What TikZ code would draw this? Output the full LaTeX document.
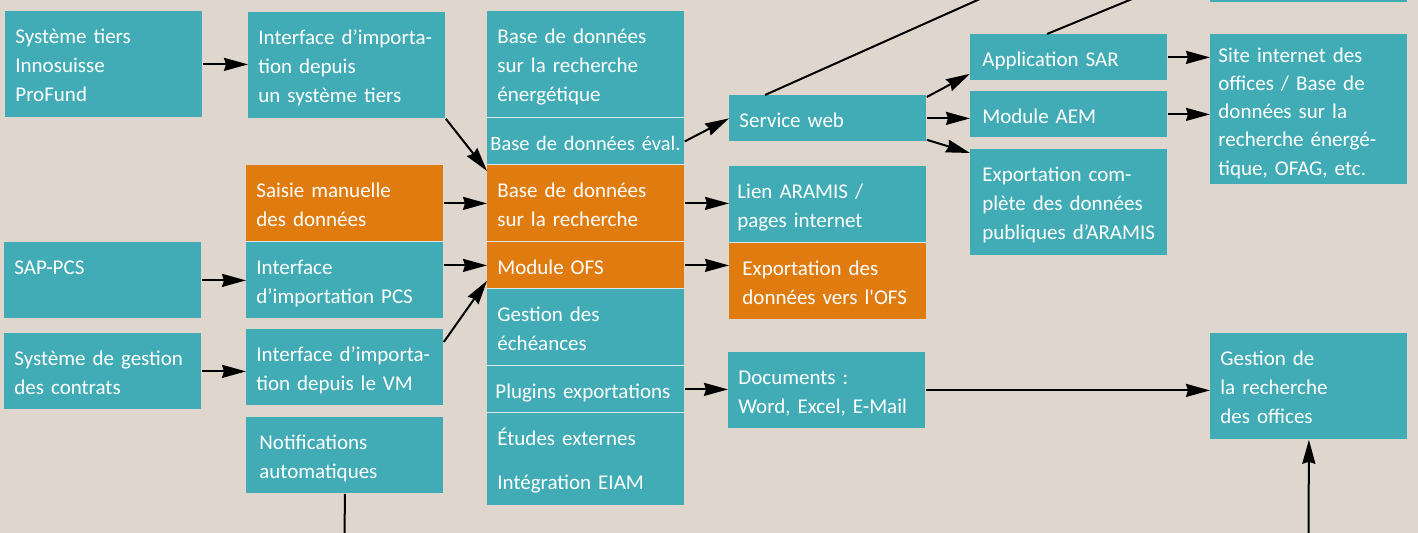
\documentclass[tikz,border=0pt]{standalone}
\usepackage{fontspec}
\setmainfont{Carlito}
\usetikzlibrary{arrows.meta}
\definecolor{boxteal}{RGB}{65,172,182}
\definecolor{boxorange}{RGB}{224,123,16}
\definecolor{paper}{RGB}{223,215,206}
\definecolor{sepline}{RGB}{214,232,233}
\begin{document}
\begin{tikzpicture}[x=0.5pt,y=-0.5pt,
  box/.style={fill=boxteal, text=white, anchor=north west, inner xsep=5pt, inner ysep=0pt, text width=88.5pt, text height=16pt, text depth=#1, align=left, font=\fontsize{10.5pt}{14.5pt}\selectfont},
  box/.default=22pt,
  hot/.style={box=#1, fill=boxorange},
  hot/.default=22pt,
  link/.style={line width=1pt},
  sep/.style={draw=sepline, line width=0.6pt},
  >={Stealth[length=12pt,width=6.5pt,inset=1pt]}]
\useasboundingbox (0,0) rectangle (1418,533);
\clip (0,0) rectangle (1418,533);
\fill[paper] (0,0) rectangle (1418,533);
\node[box=37pt] (a1) at (5,11) {Système tiers\\Innosuisse\\ProFund};
\node[box] (a2) at (4,242) {SAP-PCS};
\node[box] (a3) at (4,333) {Système de gestion\\des contrats};
\node[box=37pt] (b1) at (248,12) {Interface d’importa-\\tion depuis\\un système tiers};
\node[hot] (b2) at (246,165) {Saisie manuelle\\des données};
\node[box] (b3) at (246,242) {Interface\\d’importation PCS};
\node[box] (b4) at (246,329) {Interface d’importa-\\tion depuis le VM};
\node[box, inner xsep=6.5pt, text width=85.5pt] (b5) at (246,417) {Notifications\\automatiques};
\node[box=37pt] (c1) at (487,11) {Base de données\\sur la recherche\\énergétique};
\node[box=7pt, inner xsep=1.5pt, text width=95.5pt, font=\fontsize{10.2pt}{14.5pt}\selectfont] (c2) at (487,118) {\mbox{Base de données éval.}};
\node[hot] (c3) at (487,165) {Base de données\\sur la recherche};
\node[hot=7pt] (c4) at (487,242) {Module OFS};
\node[box] (c5) at (487,289) {Gestion des\\échéances};
\node[box=7pt, inner xsep=4pt, text width=90.5pt] (c6) at (487,366) {Plugins exportations};
\node[box=30pt] (c7) at (487,413) {Études externes\\[7.5pt]Intégration EIAM};
\node[box=7pt] (d1) at (729,95) {Service web};
\node[box, inner xsep=4pt, text width=90.5pt] (d2) at (729,166) {Lien ARAMIS /\\pages internet};
\node[hot, inner xsep=6.5pt, text width=85.5pt] (d3) at (729,243) {Exportation des\\données vers l\textquotesingle OFS};
\node[box] (d4) at (728,352) {Documents :\\Word, Excel, E-Mail};
\node[box=7pt, inner xsep=6pt, text width=86.5pt] (e1) at (970,34) {Application SAR};
\node[box=7pt, inner xsep=6pt, text width=86.5pt] (e2) at (970,91) {Module AEM};
\node[box=37pt, inner xsep=6pt, text width=86.5pt] (e3) at (970,149) {Exportation com-\\plète des données\\publiques d’ARAMIS};
\node[box=61pt, text height=14pt, inner xsep=4pt, text width=90.5pt, font=\fontsize{10.5pt}{14.1pt}\selectfont] (f1) at (1210,34) {Site internet des\\offices / Base de\\données sur la\\recherche énergé-\\tique, OFAG, etc.};
\node[box=37pt] (f2) at (1210,333) {Gestion de\\la recherche\\des offices};
\fill[boxteal] (1210,-20) rectangle (1407,2);
\draw[sep] (c1.south west) -- (c1.south east);
\draw[sep] (c2.south west) -- (c2.south east);
\draw[sep] (c3.south west) -- (c3.south east);
\draw[sep] (c4.south west) -- (c4.south east);
\draw[sep] (c5.south west) -- (c5.south east);
\draw[sep] (c6.south west) -- (c6.south east);
\draw[sep] (b2.south west) -- (b2.south east);
\draw[sep] (d2.south west) -- (d2.south east);
\coordinate (webtop) at (1000,-10);
\coordinate (sartop) at (1154,-10);
\coordinate (notifdown) at (344.5,545);
\coordinate (gestionup) at (1308.5,545);
\draw[link,->] (a1.east) -- (a1.east -| b1.west);
\draw[link,->] (a2.east) -- (b3.west);
\draw[link,->] (a3.east) -- (a3.east -| b4.west);
\draw[link,->] (b1.south east) -- ([yshift=-3pt]c3.north west);
\draw[link,->] (b2.east) -- (c3.west);
\draw[link,->] (b3.east |- c4.west) -- (c4.west);
\draw[link,->] ([yshift=-6.5pt]b4.north east) -- ([yshift=4pt]c4.south west);
\draw[link,->] (c2.east) -- (d1.west);
\draw[link,->] (c3.east) -- (c3.east -| d2.west);
\draw[link,->] (c4.east) -- (c4.east -| d3.west);
\draw[link,->] (c6.east) -- (c6.east -| d4.west);
\draw[link,->] ([yshift=-1pt]d1.north east) -- ([yshift=3.5pt]e1.south west);
\draw[link,->] (d1.east) -- (d1.east -| e2.west);
\draw[link,->] ([yshift=1pt]d1.south east) -- ([yshift=-2pt]e3.north west);
\draw[link,->] (e1.east) -- (e1.east -| f1.west);
\draw[link,->] (e2.east) -- (e2.east -| f1.west);
\draw[link,->] (d4.east) -- (d4.east -| f2.west);
\draw[link] ([xshift=18pt]d1.north west) -- (webtop);
\draw[link] ([xshift=38.5pt]e1.north west) -- (sartop);
\draw[link] (b5.south) -- (notifdown);
\draw[link,->] (gestionup) -- (f2.south);
\end{tikzpicture}
\end{document}
